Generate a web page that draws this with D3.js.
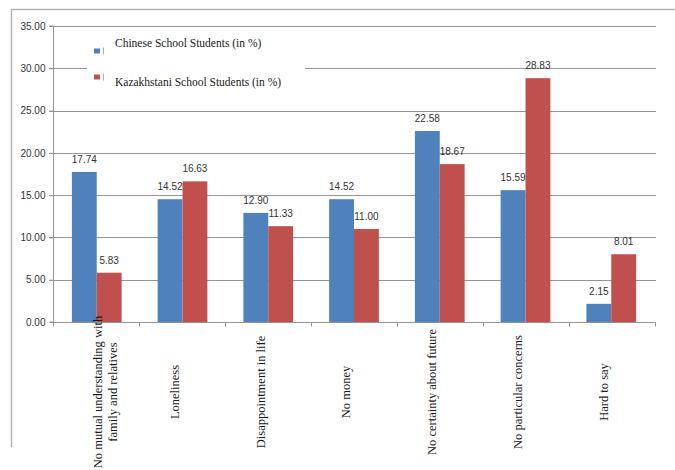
<!DOCTYPE html>
<html>
<head>
<meta charset="utf-8">
<script src="https://cdn.jsdelivr.net/npm/d3@7"></script>
<style>
  html, body { margin: 0; padding: 0; background: #fff; }
  svg { display: block; }
</style>
</head>
<body>
<svg id="chart" width="675" height="470"></svg>
<script>
const categories = [
  ["No mutual understanding with", "family and relatives"],
  ["Loneliness"],
  ["Disappointment in life"],
  ["No money"],
  ["No certainty about future"],
  ["No particular concerns"],
  ["Hard to say"]
];
const seriesNames = ["Chinese School Students (in %)", "Kazakhstani School Students (in %)"];
const chineseValues = [17.74, 14.52, 12.90, 14.52, 22.58, 15.59, 2.15];
const kazakhValues = [5.83, 16.63, 11.33, 11.00, 18.67, 28.83, 8.01];
const yTicks = [0, 5, 10, 15, 20, 25, 30, 35];
const colors = ["#4F81BD", "#C0504D"];

const svg = d3.select("#chart");
const catKeys = categories.map(c => c.join(" "));
const seriesValues = [chineseValues, kazakhValues];

const x0 = d3.scaleBand().domain(catKeys).range([53, 655]).paddingInner(0.42).paddingOuter(0.22);
const x1 = d3.scaleBand().domain(seriesNames).range([0, x0.bandwidth()]);
const y = d3.scaleLinear().domain([0, 35]).range([322, 26]);

// outer frame
svg.append("path").attr("d", "M11.5,447 L11.5,9.5 L675,9.5")
  .attr("fill", "none").attr("stroke", "#b5b5b5").attr("stroke-width", 1.5);

// gridlines
svg.append("g").selectAll("line").data(yTicks.filter(t => t > 0)).join("line")
  .attr("x1", 49).attr("x2", 656)
  .attr("y1", d => Math.round(y(d)) + 0.5).attr("y2", d => Math.round(y(d)) + 0.5)
  .attr("stroke", "#959595").attr("stroke-width", 1);

// y axis
const yAxis = d3.axisLeft(y).tickValues(yTicks).tickFormat(d3.format(".2f")).tickSize(4).tickPadding(4);
const gy = svg.append("g").attr("transform", "translate(53.5,0)").call(yAxis);
gy.select(".domain").attr("stroke", "#959595").attr("d", `M-4,${y(35)}H0V${y(0)}H-4`);
gy.selectAll(".tick line").attr("stroke", "#959595");
gy.selectAll(".tick text").attr("font-family", "Liberation Sans, Arial, sans-serif")
  .attr("font-size", 10).attr("fill", "#333");

// legend box (covers gridlines)
svg.append("rect").attr("x", 87).attr("y", 31).attr("width", 218).attr("height", 68).attr("fill", "#fff");

// bars
const groups = svg.append("g").selectAll("g").data(catKeys).join("g")
  .attr("transform", d => `translate(${x0(d)},0)`);
groups.selectAll("rect").data((d, i) => seriesNames.map((s, j) => ({ s, j, v: seriesValues[j][i] })))
  .join("rect")
  .attr("x", d => x1(d.s)).attr("width", x1.bandwidth())
  .attr("y", d => y(d.v)).attr("height", d => y(0) - y(d.v))
  .attr("fill", d => colors[d.j]);

// value labels
groups.selectAll("text").data((d, i) => seriesNames.map((s, j) => ({ s, j, v: seriesValues[j][i] })))
  .join("text")
  .attr("x", d => x1(d.s) + x1.bandwidth() / 2)
  .attr("y", d => y(d.v) - 9)
  .attr("text-anchor", "middle")
  .attr("font-family", "Liberation Sans, Arial, sans-serif")
  .attr("font-size", 10).attr("fill", "#333")
  .text(d => d3.format(".2f")(d.v));

// x axis
const gx = svg.append("g").attr("transform", `translate(0,${y(0) + 0.5})`);
gx.append("line").attr("x1", 53).attr("x2", 656).attr("stroke", "#959595");
const bounds = d3.range(catKeys.length + 1).map(i => 53 + i * (602 / catKeys.length));
gx.selectAll(".tk").data(bounds).join("line").attr("class", "tk")
  .attr("x1", d => Math.round(d) + 0.5).attr("x2", d => Math.round(d) + 0.5)
  .attr("y1", 0).attr("y2", 4).attr("stroke", "#959595");

// category labels (rotated)
categories.forEach((lines, i) => {
  const cx = x0(catKeys[i]) + x0.bandwidth() / 2;
  const multi = lines.length > 1;
  lines.forEach((ln, k) => {
    const lx = multi ? cx + 1 + k * 15 : cx - 8;
    svg.append("text")
      .attr("transform", `translate(${lx},392) rotate(-90)`)
      .attr("text-anchor", "middle")
      .attr("dy", "0.35em")
      .attr("font-family", "Liberation Serif, Times New Roman, serif")
      .attr("font-size", 12.5)
      .attr("fill", "#1a1a1a")
      .text(ln);
  });
});

// legend
const legendY = [51, 77];
seriesNames.forEach((s, i) => {
  svg.append("rect").attr("x", 94).attr("y", legendY[i] - 2.5).attr("width", 6).attr("height", 5).attr("fill", colors[i]);
  svg.append("line").attr("x1", 103.5).attr("x2", 103.5).attr("y1", legendY[i] - 3.5).attr("y2", legendY[i] + 3.5)
    .attr("stroke", "#aaa").attr("stroke-width", 1);
});
svg.append("text").attr("x", 115).attr("y", 47).attr("font-family", "Liberation Serif, Times New Roman, serif")
  .attr("font-size", 11.5).attr("fill", "#1a1a1a").text(seriesNames[0]);
svg.append("text").attr("x", 115).attr("y", 86).attr("font-family", "Liberation Serif, Times New Roman, serif")
  .attr("font-size", 11.5).attr("fill", "#1a1a1a").text(seriesNames[1]);
</script>
</body>
</html>
